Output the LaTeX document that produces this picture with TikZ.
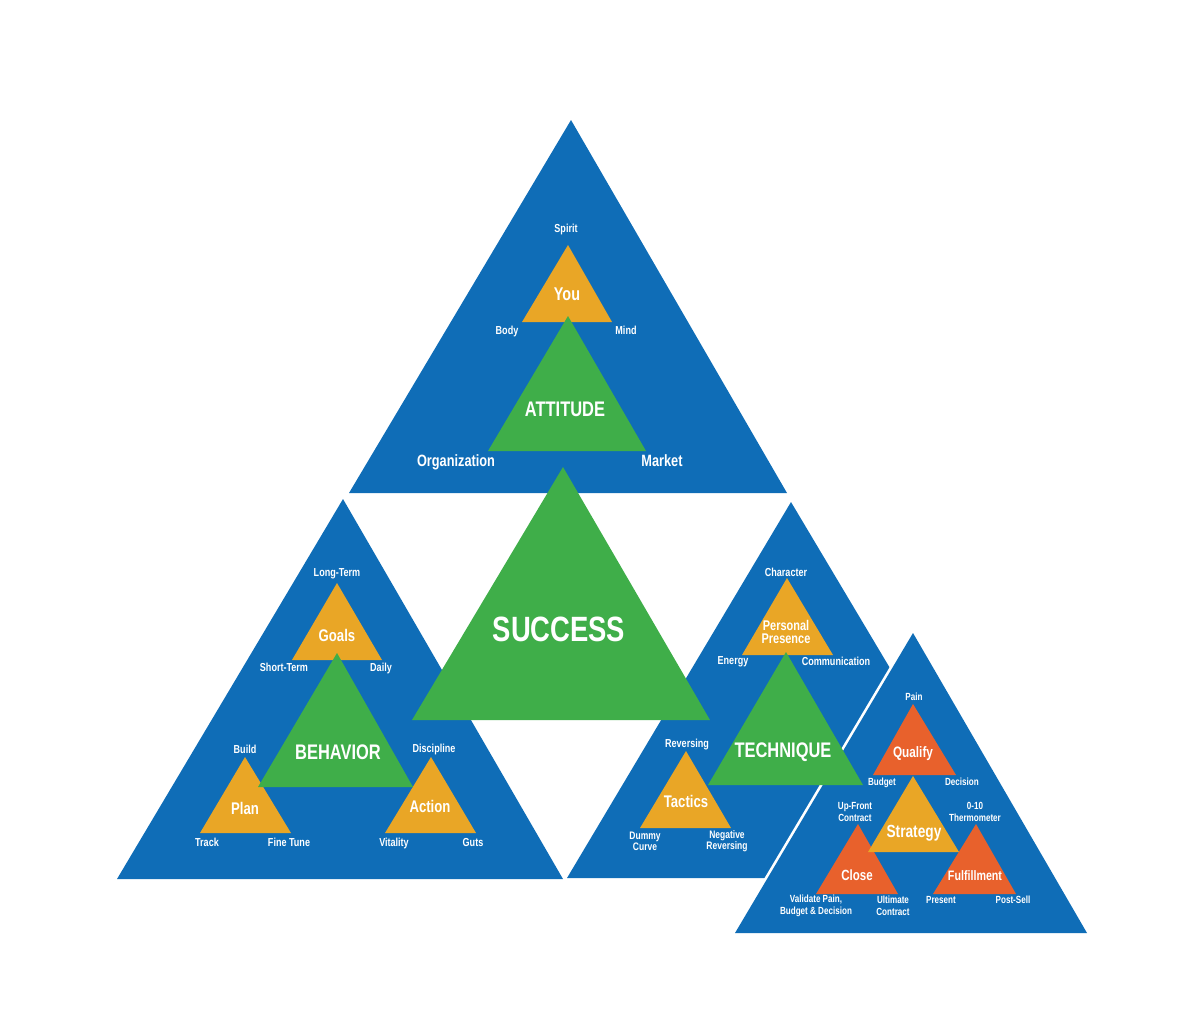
\documentclass[tikz,border=0pt]{standalone}
\usepackage{fontspec}
\setmainfont{Liberation Sans}[FakeStretch=0.78]
\usepackage{tikz}
\definecolor{sb-blue}{HTML}{0F6DB7}
\definecolor{sb-green}{HTML}{3FAE49}
\definecolor{sb-gold}{HTML}{E9A626}
\definecolor{sb-red}{HTML}{E8612C}

\begin{document}
\begin{tikzpicture}[x=0.02cm, y=-0.02cm,
    nodes={text=white, align=center, inner sep=0pt},
    lbl/.style={font=\bfseries\fontsize{6.6}{7}\selectfont},
    lblsm/.style={font=\bfseries\fontsize{5.9}{6.6}\selectfont},
    lblbig/.style={font=\bfseries\fontsize{9.3}{10}\selectfont},
    inner/.style={font=\bfseries\fontsize{9.6}{10}\selectfont},
    core/.style={font=\bfseries\fontsize{12}{13}\selectfont},
    big/.style={font=\bfseries\fontsize{20}{22}\selectfont}]
        \useasboundingbox (0,0) rectangle (1200,1019);

        % attitude
        \fill[sb-blue] (571,120) -- (787,493) -- (349,493) -- cycle;
        \fill[sb-gold] (568,245) -- (612,322) -- (522,322) -- cycle;
        \fill[sb-green] (568,316) -- (646,451) -- (488,451) -- cycle;

        % behavior
        \fill[sb-blue] (343,499) -- (563,879) -- (117,879) -- cycle;
        \fill[sb-gold] (337,583) -- (382,660) -- (292,660) -- cycle;
        \fill[sb-gold] (245,757) -- (291,833) -- (200,833) -- cycle;
        \fill[sb-gold] (431,757) -- (476,833) -- (385,833) -- cycle;
        \fill[sb-green] (337,653) -- (413,787) -- (258,787) -- cycle;

        % technique
        \fill[sb-blue] (791,502) -- (1015,878) -- (567,878) -- cycle;
        \draw[white, line width=3pt, line join=miter]
            (913,633) -- (1087,933) -- (735,933) -- cycle;
        \fill[sb-blue] (913,633) -- (1087,933) -- (735,933) -- cycle;
        \fill[sb-gold] (787,578) -- (833,655) -- (742,655) -- cycle;
        \fill[sb-gold] (686,751) -- (731,828) -- (640,828) -- cycle;
        \fill[sb-green] (786,652) -- (863,785) -- (708,785) -- cycle;

        % strategy
        \fill[sb-red] (913,704) -- (956,775) -- (873,775) -- cycle;
        \fill[sb-red] (858,824) -- (898,894) -- (816,894) -- cycle;
        \fill[sb-red] (976,824) -- (1016,894) -- (933,894) -- cycle;
        \fill[sb-gold] (913,776) -- (959,852) -- (868,852) -- cycle;

        % success
        \fill[sb-green] (563,467) -- (710,720) -- (412,720) -- cycle;

        \node[lbl] (spirit) at (566,229) {Spirit};
        \node[inner, font=\bfseries\fontsize{10.5}{11}\selectfont] (you) at (567,294) {You};
        \node[lbl] (body) at (507,331) {Body};
        \node[lbl] (mind) at (626,330) {Mind};
        \node[core] (attitude) at (565,409) {ATTITUDE};
        \node[lblbig] (organization) at (456,462) {Organization};
        \node[lblbig] (market) at (662,461) {Market};

        \node[lbl] (longterm) at (337,574) {Long-Term};
        \node[inner] (goals) at (337,635) {Goals};
        \node[lbl] (shortterm) at (284,667) {Short-Term};
        \node[lbl] (daily) at (381,668) {Daily};
        \node[core] (behavior) at (338,752) {BEHAVIOR};
        \node[lbl] (build) at (245,749) {Build};
        \node[lbl] (discipline) at (434,749) {Discipline};
        \node[inner] (plan) at (245,808) {Plan};
        \node[inner] (action) at (430,806) {Action};
        \node[lbl] (track) at (207,842) {Track};
        \node[lbl] (finetune) at (289,842) {Fine Tune};
        \node[lbl] (vitality) at (394,843) {Vitality};
        \node[lbl] (guts) at (473,842) {Guts};

        \node[big] (success) at (559,629) {SUCCESS};

        \node[lbl] (character) at (786,572) {Character};
        \node[inner, font=\bfseries\fontsize{8}{7.4}\selectfont] (presence) at (786,632) {Personal\\Presence};
        \node[lbl] (energy) at (733,662) {Energy};
        \node[lbl] (communication) at (836,661) {Communication};
        \node[core] (technique) at (783,752) {TECHNIQUE};
        \node[lbl] (reversing) at (687,745) {Reversing};
        \node[inner] (tactics) at (686,801) {Tactics};
        \node[lblsm, font=\bfseries\fontsize{6.2}{6.3}\selectfont] (dummy) at (645,841) {Dummy\\Curve};
        \node[lblsm, font=\bfseries\fontsize{6.2}{6.3}\selectfont] (negative) at (727,841) {Negative\\Reversing};

        \node[lblsm] (pain) at (914,697) {Pain};
        \node[inner, font=\bfseries\fontsize{8.6}{9}\selectfont] (qualify) at (913,754) {Qualify};
        \node[lblsm] (budget) at (882,783) {Budget};
        \node[lblsm] (decision) at (962,782) {Decision};
        \node[inner, font=\bfseries\fontsize{10}{11}\selectfont] (strategy) at (914,833) {Strategy};
        \node[lblsm] (upfront) at (855,812) {Up-Front\\Contract};
        \node[lblsm] (thermo) at (975,812) {0-10\\Thermometer};
        \node[inner, font=\bfseries\fontsize{8.4}{9}\selectfont] (close) at (857,875) {Close};
        \node[inner, font=\bfseries\fontsize{7.8}{8}\selectfont] (fulfillment) at (975,876) {Fulfillment};
        \node[lblsm] (validate) at (816,906) {Validate Pain,\\Budget \& Decision};
        \node[lblsm] (ultimate) at (893,906) {Ultimate\\Contract};
        \node[lblsm] (present) at (941,900) {Present};
        \node[lblsm] (postsell) at (1013,900) {Post-Sell};
      \end{tikzpicture}
\end{document}
